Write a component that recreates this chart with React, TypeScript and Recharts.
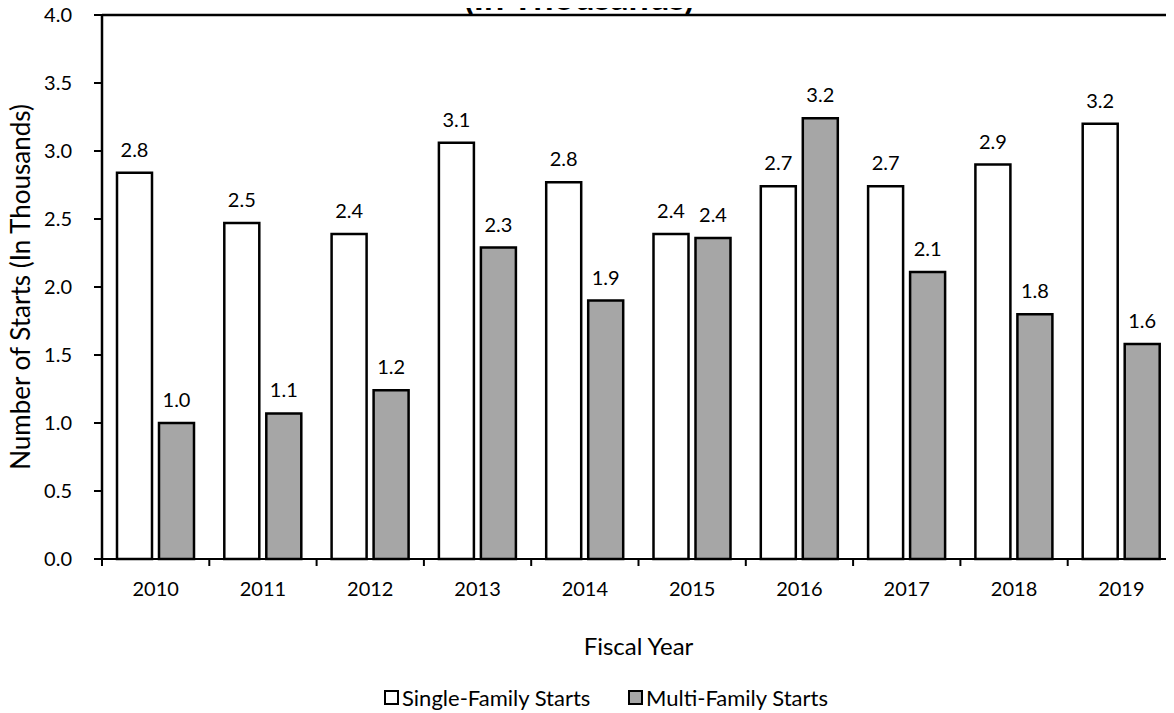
import React from "react"
import {
  BarChart,
  Bar,
  XAxis,
  YAxis,
  Legend,
  LabelList,
  ReferenceLine,
} from "recharts"

const years = ["2010", "2011", "2012", "2013", "2014", "2015", "2016", "2017", "2018", "2019"]
const singleFamily = [2.84, 2.47, 2.39, 3.06, 2.77, 2.39, 2.74, 2.74, 2.9, 3.2]
const multiFamily = [1.0, 1.07, 1.24, 2.29, 1.9, 2.36, 3.24, 2.11, 1.8, 1.58]
const yTicks = [0, 0.5, 1, 1.5, 2, 2.5, 3, 3.5, 4]

const FONT = "Lato, 'Open Sans', sans-serif"
const GREY = "#a6a6a6"
const TICK_MARGIN = 23

const data = years.map((year, i) => ({
  year,
  single: singleFamily[i],
  multi: multiFamily[i],
}))

const fmt = (v: number) => (Math.round(v * 10) / 10).toFixed(1)

// year label plus the small tick marks that sit between categories
function YearTick(props: any) {
  const { x, y, payload, index, visibleTicksCount } = props
  const half = payload.offset || 0
  const axisY = y - TICK_MARGIN
  const last = index === visibleTicksCount - 1
  return (
    <g>
      <line x1={x - half} x2={x - half} y1={axisY} y2={axisY + 7} stroke="#000" strokeWidth={2} />
      {last && (
        <line x1={x + half} x2={x + half} y1={axisY} y2={axisY + 7} stroke="#000" strokeWidth={2} />
      )}
      <text x={x} y={y} dy="0.71em" textAnchor="middle" fill="#000" fontSize={20} fontFamily={FONT}>
        {payload.value}
      </text>
    </g>
  )
}

function LegendContent() {
  const box = (fill: string) => (
    <span
      style={{
        display: "inline-block",
        width: 11,
        height: 11,
        border: "2px solid #000",
        background: fill,
        marginRight: 3,
      }}
    />
  )
  return (
    <div
      style={{
        display: "flex",
        alignItems: "center",
        height: 30,
        paddingLeft: 384,
        fontFamily: FONT,
        fontSize: 22,
        color: "#000",
      }}
    >
      <span style={{ display: "flex", alignItems: "center", width: 244 }}>
        {box("#fff")}Single-Family Starts
      </span>
      <span style={{ display: "flex", alignItems: "center" }}>
        {box(GREY)}Multi-Family Starts
      </span>
    </div>
  )
}

export default function App() {
  return (
    <div
      style={{
        position: "relative",
        width: 1174,
        height: 713,
        margin: "-8px 0 0 -8px",
        overflow: "hidden",
        background: "#fff",
      }}
    >
      <BarChart
        width={1182}
        height={713}
        data={data}
        margin={{ top: 15, right: 7, left: 0, bottom: 1 }}
        barGap={7}
        barSize={35}
      >
        <XAxis
          dataKey="year"
          height={123}
          tickLine={false}
          tickSize={0}
          tickMargin={TICK_MARGIN}
          interval={0}
          axisLine={{ stroke: "#000", strokeWidth: 2 }}
          tick={<YearTick />}
          label={{
            value: "Fiscal Year",
            position: "insideBottom",
            offset: 27,
            fill: "#000",
            fontSize: 24,
            fontFamily: FONT,
          }}
        />
        <YAxis
          width={102}
          domain={[0, 4]}
          ticks={yTicks}
          tickFormatter={(v: number) => v.toFixed(1)}
          tickSize={8}
          tickMargin={22}
          axisLine={{ stroke: "#000", strokeWidth: 2.5 }}
          tickLine={{ stroke: "#000", strokeWidth: 2 }}
          tick={{ fill: "#000", fontSize: 20, fontFamily: FONT }}
          label={(props: any) => {
            const vb = props.viewBox
            const cy = vb.y + vb.height / 2
            return (
              <text
                x={20}
                y={cy}
                transform={`rotate(-90, 20, ${cy})`}
                textAnchor="middle"
                dominantBaseline="central"
                fill="#000"
                fontSize={26}
                fontFamily={FONT}
              >
                Number of Starts (In Thousands)
              </text>
            )
          }}
        />
        <ReferenceLine y={4} stroke="#000" strokeWidth={2.5} ifOverflow="visible" />
        <Legend verticalAlign="bottom" height={30} content={() => <LegendContent />} />
        <Bar
          dataKey="single"
          name="Single-Family Starts"
          fill="#fff"
          stroke="#000"
          strokeWidth={2.5}
          isAnimationActive={false}
        >
          <LabelList
            dataKey="single"
            position="top"
            offset={16}
            formatter={(v: any) => fmt(Number(v))}
            fill="#000"
            fontSize={20}
            fontFamily={FONT}
          />
        </Bar>
        <Bar
          dataKey="multi"
          name="Multi-Family Starts"
          fill={GREY}
          stroke="#000"
          strokeWidth={2.5}
          isAnimationActive={false}
        >
          <LabelList
            dataKey="multi"
            position="top"
            offset={16}
            formatter={(v: any) => fmt(Number(v))}
            fill="#000"
            fontSize={20}
            fontFamily={FONT}
          />
        </Bar>
      </BarChart>
      <svg
        width={1174}
        height={24}
        style={{ position: "absolute", left: 0, top: 0, pointerEvents: "none" }}
      >
        <text x={579} y={10} textAnchor="middle" fontFamily={FONT} fontWeight={700} fontSize={36} fill="#000">
          (In Thousands)
        </text>
      </svg>
    </div>
  )
}
